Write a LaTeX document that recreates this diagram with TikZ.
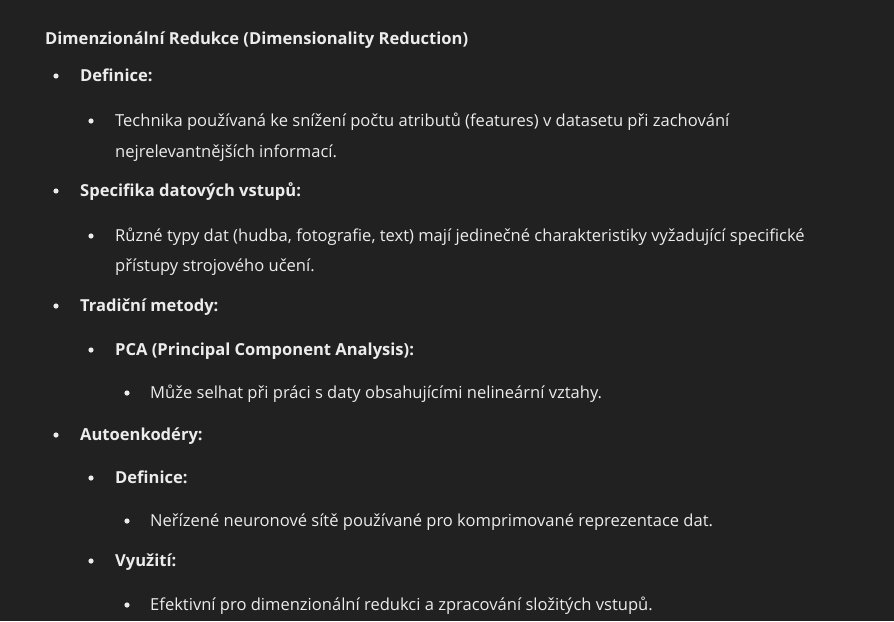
\documentclass[tikz,border=0pt]{standalone}
\usepackage{fontspec}
\setmainfont{Open Sans}
\definecolor{bg}{HTML}{212121}
\definecolor{fg}{HTML}{ECECEC}
\begin{document}
\begin{tikzpicture}[x=1pt,y=-1pt,
  txt/.style={anchor=base west,inner sep=0pt,text=fg,font=\fontsize{16.55}{20}\selectfont},
  bld/.style={txt,font=\fontsize{16.55}{20}\selectfont\bfseries},
  bul/.style={circle,fill=fg,inner sep=0pt,minimum size=5.2pt}]
\fill[bg] (0,0) rectangle (894,621);
\useasboundingbox (0,0) rectangle (894,621);
\node[bld] (title) at (45,44) {Dimenzionální Redukce (Dimensionality Reduction)};
% Definice
\node[bul] (b1) at (56,76) {};
\node[bld] (def) at (80,81) {Definice:};
\node[bul] (b2) at (91,121) {};
\node[txt] (tech) at (115,126) {Technika používaná ke snížení počtu atributů (features) v datasetu při zachování};
\node[txt] (tech2) at (115,157) {nejrelevantnějších informací.};
% Specifika
\node[bul] (b3) at (56,191) {};
\node[bld] (spec) at (80,196) {Specifika datových vstupů:};
\node[bul] (b4) at (91,236) {};
\node[txt] (ruz) at (115,241) {Různé typy dat (hudba, fotografie, text) mají jedinečné charakteristiky vyžadující specifické};
\node[txt] (ruz2) at (115,271) {přístupy strojového učení.};
% Tradicni
\node[bul] (b5) at (56,306) {};
\node[bld] (trad) at (80,311) {Tradiční metody:};
\node[bul] (b6) at (91,350) {};
\node[bld] (pca) at (115,355) {PCA (Principal Component Analysis):};
\node[bul] (b7) at (127,393) {};
\node[txt] (muze) at (150,398) {Může selhat při práci s daty obsahujícími nelineární vztahy.};
% Autoenkodery
\node[bul] (b8) at (56,435) {};
\node[bld] (auto) at (80,440) {Autoenkodéry:};
\node[bul] (b9) at (91,478) {};
\node[bld] (def2) at (115,483) {Definice:};
\node[bul] (b10) at (127,521) {};
\node[txt] (ner) at (150,526) {Neřízené neuronové sítě používané pro komprimované reprezentace dat.};
\node[bul] (b11) at (91,561) {};
\node[bld] (vyu) at (115,566) {Využití:};
\node[bul] (b12) at (127,605) {};
\node[txt] (efe) at (150,610) {Efektivní pro dimenzionální redukci a zpracování složitých vstupů.};
\end{tikzpicture}
\end{document}
